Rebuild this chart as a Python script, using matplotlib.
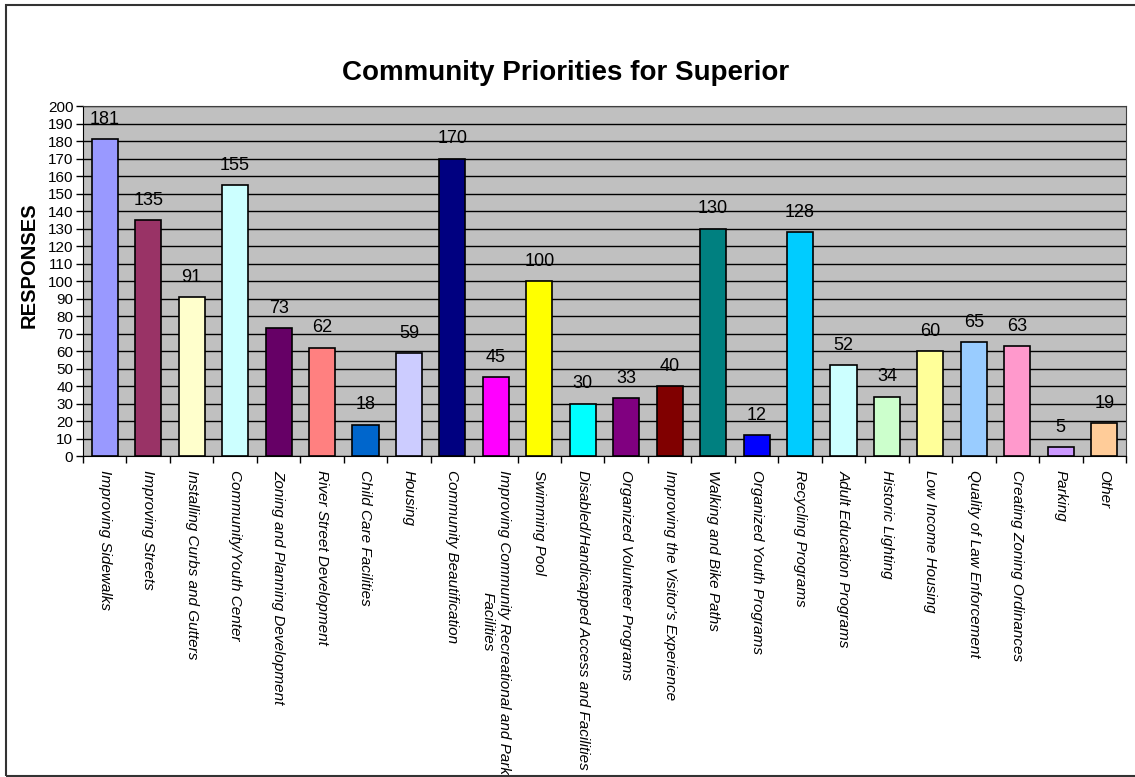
import matplotlib.pyplot as plt
from matplotlib.patches import Rectangle
import numpy as np

plt.rcParams['font.family'] = ['Liberation Sans', 'DejaVu Sans']

# Survey results
priorities = [
    'Improving Sidewalks', 'Improving Streets', 'Installing Curbs and Gutters',
    'Community/Youth Center', 'Zoning and Planning Development',
    'River Street Development', 'Child Care Facilities', 'Housing',
    'Community Beautification',
    'Improving Community Recreational and Park\nFacilities',
    'Swimming Pool', 'Disabled/Handicapped Access and Facilities',
    'Organized Volunteer Programs', "Improving the Visitor's Experience",
    'Walking and Bike Paths', 'Organized Youth Programs', 'Recycling Programs',
    'Adult Education Programs', 'Historic Lighting', 'Low Income Housing',
    'Quality of Law Enforcement', 'Creating Zoning Ordinances', 'Parking', 'Other',
]
responses = [181, 135, 91, 155, 73, 62, 18, 59, 170, 45, 100, 30, 33, 40,
             130, 12, 128, 52, 34, 60, 65, 63, 5, 19]
bar_colors = [
    '#9999FF', '#993366', '#FFFFCC', '#CCFFFF', '#660066', '#FF8080', '#0066CC',
    '#CCCCFF', '#000080', '#FF00FF', '#FFFF00', '#00FFFF', '#800080', '#800000',
    '#008080', '#0000FF', '#00CCFF', '#CCFFFF', '#CCFFCC', '#FFFF99', '#99CCFF',
    '#FF99CC', '#CC99FF', '#FFCC99',
]

fig = plt.figure(figsize=(11.35, 7.77), dpi=100)
ax = fig.add_axes([83 / 1135, 1 - 456 / 777, (1126 - 83) / 1135, (456 - 106) / 777])

x = np.arange(len(priorities))
ax.set_facecolor('#C0C0C0')
ax.bar(x, responses, width=0.6, color=bar_colors, edgecolor='black',
       linewidth=1.2, zorder=3)

for xi, v in zip(x, responses):
    ax.annotate(str(v), (xi, v), xytext=(0, 8), textcoords='offset points',
                ha='center', va='bottom', fontsize=13, zorder=4)

ax.set_xlim(-0.5, len(priorities) - 0.5)
ax.set_ylim(0, 200)
ax.set_yticks(np.arange(0, 201, 10))
ax.yaxis.grid(True, color='black', linewidth=1, zorder=1)
ax.set_axisbelow(True)

ax.set_xticks(x)
ax.set_xticklabels(priorities, rotation=270, ha='center', va='top',
                   fontsize=11, style='italic', multialignment='center')
ax.set_xticks(np.arange(-0.5, len(priorities), 1), minor=True)
ax.tick_params(axis='x', which='major', length=0, pad=10)
ax.tick_params(axis='x', which='minor', length=5, width=1)
ax.tick_params(axis='y', length=5, width=1, labelsize=11, pad=2)

for side in ['top', 'right']:
    ax.spines[side].set_color('#404040')
ax.spines['left'].set_color('black')
ax.spines['bottom'].set_color('black')

ax.set_ylabel('RESPONSES', fontsize=14.5, fontweight='bold')
ax.yaxis.set_label_coords(-0.043, 0.546)
fig.text(566 / 1135, 1 - 73 / 777, 'Community Priorities for Superior',
         ha='center', va='center', fontsize=20, fontweight='bold')

# outer chart frame
fig.patches.append(Rectangle((6 / 1135, 1 / 777), 1.1, 1 - 6 / 777,
                             transform=fig.transFigure, fill=False,
                             edgecolor='#333333', linewidth=1.5))

fig.savefig('out.png', dpi=100)
